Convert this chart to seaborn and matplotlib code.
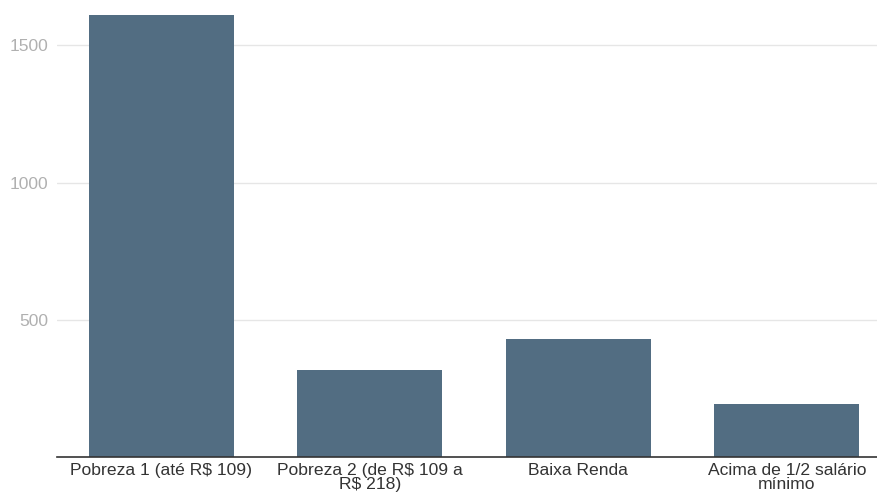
import matplotlib
matplotlib.use("Agg")
import matplotlib.pyplot as plt
import seaborn as sns
import pandas as pd

categories = ["Pobreza 1 (até R$ 109)", "Pobreza 2 (de R$ 109 a\nR$ 218)", "Baixa Renda", "Acima de 1/2 salário\nmínimo"]
values = [1612, 318, 430, 193]
yticks = [500, 1000, 1500]

sns.set_theme(style="white")
plt.rcParams['font.family'] = ['Liberation Sans', 'DejaVu Sans']

W, H = 877, 496
fig = plt.figure(figsize=(W/100, H/100), dpi=100)
left, right, bottom, top = 57, 891, 496-457.3, 496
ax = fig.add_axes([left/W, bottom/H, (right-left)/W, (top-bottom)/H])

df = pd.DataFrame({"cat": categories, "val": values})
sns.barplot(data=df, x="cat", y="val", color="#526d82", saturation=1, width=0.695,
            edgecolor="none", linewidth=0, ax=ax)

ax.set_xlim(-0.5, 3.5)
ax.set_ylim(0, 1665)
ax.set_yticks(yticks)
ax.set_yticklabels([str(v) for v in yticks])
ax.yaxis.grid(True, color="#e6e6e6", linewidth=1)
ax.set_axisbelow(True)
for s in ["top", "right", "left"]:
    ax.spines[s].set_visible(False)
ax.spines["bottom"].set_color("#333333")
ax.spines["bottom"].set_linewidth(1.2)
ax.tick_params(axis="y", length=0, pad=6.5, labelsize=12.6, labelcolor="#b0b0b0")
ax.tick_params(axis="x", length=0, pad=4, labelsize=12.6, labelcolor="#333333")
for t in ax.get_xticklabels():
    t.set_linespacing(0.92)
ax.set_xlabel("")
ax.set_ylabel("")

fig.savefig("out.png", dpi=100)
